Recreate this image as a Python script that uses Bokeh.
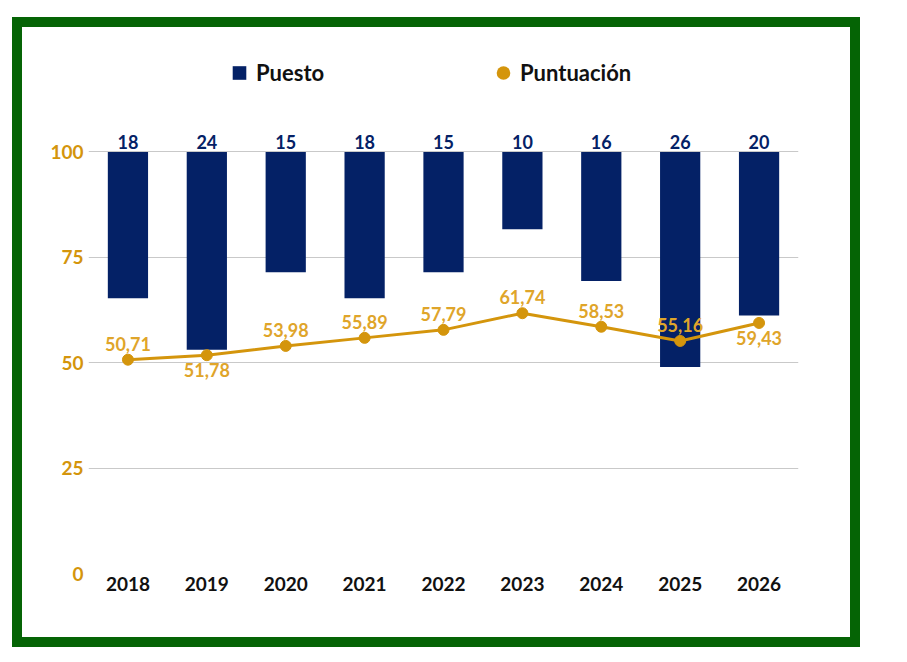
from bokeh.plotting import figure
from bokeh.models import ColumnDataSource, Range1d, FixedTicker, Legend, LegendItem
from bokeh.core.properties import value
from bokeh.embed import file_html
from bokeh.resources import INLINE

years = ["2018", "2019", "2020", "2021", "2022", "2023", "2024", "2025", "2026"]
puesto = [18, 24, 15, 18, 15, 10, 16, 26, 20]
puntuacion = [50.71, 51.78, 53.98, 55.89, 57.79, 61.74, 58.53, 55.16, 59.43]
label_side = ["above", "below", "above", "above", "above", "above", "above", "above", "below"]
y_ticks = [0, 25, 50, 75, 100]

NAVY = "#042166"
GOLD = "#D4950C"
GOLD_TXT = "#DFA52A"
FONT = "Lato"

# rank axis: 1 at top (=100), 50 at bottom (=0), reversed
y_top = 125
rank_min, rank_max = 1, 50
per_unit = (rank_max - rank_min) / 100.0
rank_end = rank_min - per_unit * (y_top - 100)

p = figure(x_range=years, y_range=Range1d(0, y_top), width=848, height=630,
           output_backend="svg", toolbar_location=None,
           min_border_left=66, min_border_right=72, min_border_top=19, min_border_bottom=84)
p.extra_y_ranges = {"rank": Range1d(start=rank_max, end=rank_end)}
p.outline_line_color = None
p.background_fill_color = "white"
p.border_fill_color = "white"
p.styles = {"border": "10px solid #056405", "margin": "17px 0 0 12px"}

src = ColumnDataSource(dict(
    x=years, puesto=puesto, lbl_p=[str(v) for v in puesto],
    score=puntuacion, lbl_s=[("%.2f" % v).replace(".", ",") for v in puntuacion],
    base=[rank_min] * len(years),
    off=[-16 if s == "above" else 15 for s in label_side],
    top100=[100] * len(years),
))

p.vbar(x="x", bottom="base", top="puesto", width=0.51, source=src,
       y_range_name="rank", fill_color=NAVY, line_color=None)
p.text(x="x", y="top100", text="lbl_p", source=src, y_offset=-3,
       text_align="center", text_baseline="bottom", text_color=NAVY,
       text_font=value(FONT), text_font_style="bold", text_font_size="18px")

p.line(x="x", y="score", source=src, line_color=GOLD, line_width=3)
p.scatter(x="x", y="score", source=src, size=11, fill_color=GOLD, line_color=GOLD)
p.text(x="x", y="score", text="lbl_s", source=src, y_offset="off",
       text_align="center", text_baseline="middle", text_color=GOLD_TXT,
       text_font=value(FONT), text_font_style="bold", text_font_size="18px")

# legend-only renderers (placed far outside the visible range)
lg_bar = p.scatter(x=[years[0]], y=[-1000], marker="square", size=14,
                   fill_color=NAVY, line_color=None)
lg_dot = p.scatter(x=[years[0]], y=[-1000], marker="circle", size=14,
                   fill_color=GOLD, line_color=None)
common = dict(orientation="horizontal", padding=0, margin=0,
              glyph_width=34, glyph_height=35, label_standoff=0,
              border_line_color=None, background_fill_alpha=0,
              label_text_font=FONT, label_text_font_style="bold",
              label_text_font_size="22px", label_text_color="#111111")
legend1 = Legend(items=[LegendItem(label="Puesto", renderers=[lg_bar])],
                 location=(134, 483), **common)
legend2 = Legend(items=[LegendItem(label="Puntuación", renderers=[lg_dot])],
                 location=(398, 483), **common)
p.add_layout(legend1, "center")
p.add_layout(legend2, "center")

p.yaxis.ticker = FixedTicker(ticks=y_ticks)
p.yaxis.axis_line_color = None
p.yaxis.major_tick_line_color = None
p.yaxis.major_tick_out = 0
p.yaxis.major_tick_in = 0
p.yaxis.minor_tick_line_color = None
p.yaxis.major_label_text_color = GOLD
p.yaxis.major_label_text_font = FONT
p.yaxis.major_label_text_font_style = "bold"
p.yaxis.major_label_text_font_size = "19px"
p.yaxis.major_label_standoff = 5

p.xaxis.axis_line_color = None
p.xaxis.major_tick_line_color = None
p.xaxis.major_tick_out = 0
p.xaxis.major_tick_in = 0
p.xaxis.major_label_text_color = "#111111"
p.xaxis.major_label_text_font = FONT
p.xaxis.major_label_text_font_style = "bold"
p.xaxis.major_label_text_font_size = "19px"
p.xaxis.major_label_standoff = 3

p.xgrid.grid_line_color = None
p.ygrid.ticker = FixedTicker(ticks=y_ticks)
p.ygrid.grid_line_color = "#C9C9C9"
p.ygrid.grid_line_width = 1.2

open("out.html", "w").write(file_html(p, INLINE))
